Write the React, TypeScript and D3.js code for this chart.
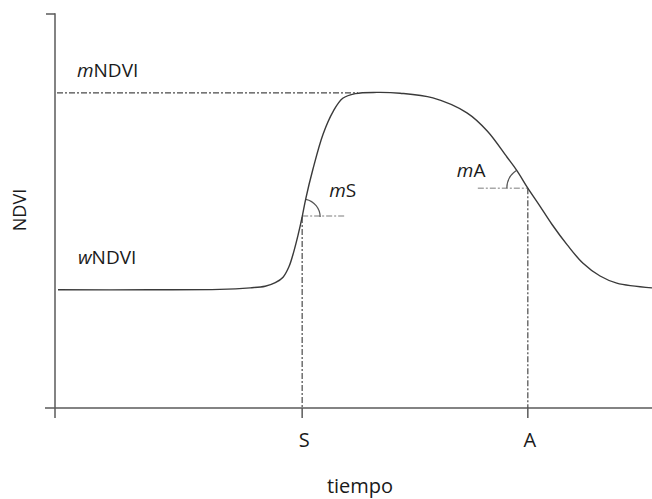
import { useMemo } from 'react';
import { curveCatmullRom, line, path as d3path, scaleLinear } from 'd3';

// time (arbitrary units, 0-100) and NDVI
const timeSteps = [
  0.5, 15.9, 27.6, 32.7, 35.2, 36.9, 38.2, 39.2, 40.0, 40.7, 41.4, 42.0, 43.2,
  44.9, 46.6, 48.2, 50.3, 53.9, 57.8, 63.3, 69.0, 72.4, 75.7, 77.4, 79.2, 81.2,
  83.2, 85.8, 88.4, 91.3, 94.1, 100,
];
const ndviValues = [
  0.3, 0.3, 0.301, 0.305, 0.309, 0.318, 0.332, 0.359, 0.397, 0.438, 0.485,
  0.531, 0.606, 0.695, 0.753, 0.786, 0.798, 0.801, 0.799, 0.787, 0.749, 0.703,
  0.637, 0.602, 0.558, 0.513, 0.467, 0.414, 0.368, 0.335, 0.317, 0.305,
];

const phenoLabels = ['S', 'A'];
const phenoTimes = [41.4, 79.2];
const mNDVI = 0.801;
const wNDVI = 0.3;

const W = 652;
const H = 499;
const font = "'Open Sans', sans-serif";

const App = () => {
  const x = useMemo(() => scaleLinear().domain([0, 100]).range([55, 652]), []);
  const y = useMemo(() => scaleLinear().domain([0, 1]).range([408, 14]), []);

  const pts = timeSteps.map((t, i) => [x(t), y(ndviValues[i])] as [number, number]);
  const curve = line().curve(curveCatmullRom.alpha(0.5))(pts) || '';

  const ndviAt = (t: number) => ndviValues[timeSteps.indexOf(t)];

  const tangentAngle = (t: number) => {
    const i = timeSteps.indexOf(t);
    const a = pts[i - 1];
    const b = pts[i + 1];
    return Math.atan2(b[1] - a[1], b[0] - a[0]);
  };

  // angle marks at S (rising) and A (falling)
  const sx = x(phenoTimes[0]);
  const sy = y(ndviAt(phenoTimes[0]));
  const ax = x(phenoTimes[1]);
  const ay = y(ndviAt(phenoTimes[1]));

  const sArc = d3path();
  const sAng = tangentAngle(phenoTimes[0]);
  sArc.moveTo(sx + 18 * Math.cos(sAng), sy + 18 * Math.sin(sAng));
  sArc.arc(sx, sy, 18, sAng, 0, false);

  const aArc = d3path();
  const aAng = tangentAngle(phenoTimes[1]) - Math.PI; // pointing up-left
  aArc.moveTo(ax + 21 * Math.cos(aAng), ay + 21 * Math.sin(aAng));
  aArc.arc(ax, ay, 21, aAng, -Math.PI, true);

  const axisColor = '#5a5a5a';
  const dashDark = '#4a4a4a';
  const dashLight = '#a8a8a8';

  return (
    <svg
      width={W}
      height={H}
      style={{ position: 'fixed', left: 0, top: 0, background: '#fff' }}
    >
      {/* axes */}
      <line x1={46} y1={y(1)} x2={x(0)} y2={y(1)} stroke={axisColor} strokeWidth={1.5} />
      <line x1={x(0)} y1={y(1) - 0.75} x2={x(0)} y2={y(0) + 10} stroke={axisColor} strokeWidth={1.5} />
      <line x1={45} y1={y(0)} x2={W} y2={y(0)} stroke={axisColor} strokeWidth={1.5} />
      {phenoTimes.map((t, i) => (
        <line key={i} x1={x(t)} y1={y(0)} x2={x(t)} y2={y(0) + 10} stroke={axisColor} strokeWidth={1.5} />
      ))}

      {/* guide lines */}
      <line
        x1={x(0) + 2}
        y1={y(mNDVI) + 0.5}
        x2={358}
        y2={y(mNDVI) + 0.5}
        stroke={dashDark}
        strokeWidth={1.2}
        strokeDasharray="6,2,2,2"
      />
      {phenoTimes.map((t, i) => (
        <line
          key={i}
          x1={x(t)}
          y1={y(ndviAt(t))}
          x2={x(t)}
          y2={y(0)}
          stroke={dashDark}
          strokeWidth={1.2}
          strokeDasharray="6,2,2,2"
        />
      ))}
      <line x1={sx} y1={sy - 1} x2={sx + 43} y2={sy - 1} stroke={dashLight} strokeWidth={1.5} strokeDasharray="6,2,2,2" />
      <line x1={ax - 50} y1={ay} x2={ax} y2={ay} stroke={dashLight} strokeWidth={1.5} strokeDasharray="6,2,2,2" />

      {/* angle arcs */}
      <path d={sArc.toString()} fill="none" stroke="#555" strokeWidth={1.2} />
      <path d={aArc.toString()} fill="none" stroke="#555" strokeWidth={1.2} />

      {/* NDVI curve */}
      <path d={curve} fill="none" stroke="#3a3a3a" strokeWidth={1.4} />

      {/* labels */}
      <g fontFamily={font} fill="#1a1a1a" fontSize={19}>
        <text x={77} y={y(mNDVI) - 15}>
          <tspan fontStyle="italic">m</tspan>NDVI
        </text>
        <text x={78} y={y(wNDVI) - 26}>
          <tspan fontStyle="italic">w</tspan>NDVI
        </text>
        <text x={sx + 27} y={sy - 20}>
          <tspan fontStyle="italic">m</tspan>S
        </text>
        <text x={ax - 71} y={ay - 11}>
          <tspan fontStyle="italic">m</tspan>A
        </text>
        <text transform={`translate(26,${210}) rotate(-90)`} textAnchor="middle" fontSize={18}>
          NDVI
        </text>
        {phenoLabels.map((l, i) => (
          <text key={l} x={x(phenoTimes[i]) + 2} y={447} textAnchor="middle" fontSize={20}>
            {l}
          </text>
        ))}
        <text x={360} y={493} textAnchor="middle" fontSize={20}>
          tiempo
        </text>
      </g>
    </svg>
  );
};

export default App;
